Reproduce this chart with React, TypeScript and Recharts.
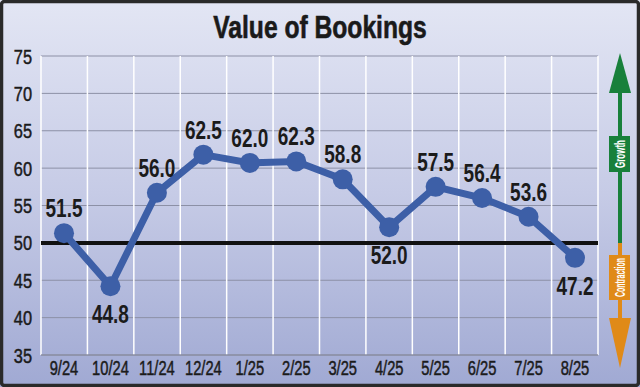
import React from 'react';
import { LineChart, Line, XAxis, YAxis, CartesianGrid, ReferenceLine, LabelList } from 'recharts';

const months = ['9/24', '10/24', '11/24', '12/24', '1/25', '2/25', '3/25', '4/25', '5/25', '6/25', '7/25', '8/25'];
const bookings = [51.3, 44.2, 56.7, 61.8, 60.7, 60.9, 58.5, 52.1, 57.5, 56.0, 53.5, 48.0];
const valueLabels = ['51.5', '44.8', '56.0', '62.5', '62.0', '62.3', '58.8', '52.0', '57.5', '56.4', '53.6', '47.2'];
const labelBelow = [false, true, false, false, false, false, false, true, false, false, false, true];
const yTicks = [35, 40, 45, 50, 55, 60, 65, 70, 75];

const data = months.map((m, i) => ({
  month: m,
  value: bookings[i],
  top: labelBelow[i] ? '' : valueLabels[i],
  bottom: labelBelow[i] ? valueLabels[i] : '',
}));

const FONT = "'Liberation Sans', Arial, sans-serif";
const LINE = '#3d5fa7';
const GREEN = '#18803b';
const ORANGE = '#e08a18';
const INK = '#1b1b1b';

function CondText(props: {
  x: number;
  y: number;
  sx: number;
  size: number;
  weight?: string;
  anchor?: 'start' | 'middle' | 'end';
  fill?: string;
  children: React.ReactNode;
  strokeW?: number;
}) {
  const { x, y, sx, size, weight = 'normal', anchor = 'middle', fill = INK, children, strokeW = 0 } = props;
  return (
    <text
      transform={`translate(${x},${y}) scale(${sx},1)`}
      textAnchor={anchor}
      fontFamily={FONT}
      fontWeight={weight}
      fontSize={size}
      fill={fill}
      stroke={strokeW ? fill : 'none'}
      strokeWidth={strokeW}
    >
      {children}
    </text>
  );
}

const makeLabel = (below: boolean) => (p: any) => {
  const v = p.value;
  if (v === undefined || v === null || v === '') return null;
  const x = p.x ?? p.viewBox?.x;
  const y = p.y ?? p.viewBox?.y;
  return (
    <CondText x={x} y={below ? y + 37 : y - 16} sx={0.76} size={25} weight="bold">
      {v}
    </CondText>
  );
};

const XTick = (p: any) => (
  <CondText x={p.x} y={p.y + 20} sx={0.7} size={21} strokeW={0.5}>
    {p.payload.value}
  </CondText>
);

const YTick = (p: any) => (
  <CondText x={p.x} y={p.y + 7.5} sx={0.78} size={21} anchor="end" strokeW={0.5}>
    {p.payload.value}
  </CondText>
);

export default function App() {
  return (
    <div
      style={{
        position: 'absolute',
        left: 0,
        top: 0,
        width: 640,
        height: 387,
        background: 'linear-gradient(to bottom, #e3e6f4 0%, #c6cbe6 50%, #a0a9d3 100%)',
        overflow: 'hidden',
      }}
    >
      <LineChart width={640} height={387} data={data} margin={{ top: 56, right: 42, bottom: 0, left: 0 }}>
        <CartesianGrid vertical={false} stroke="#8c90a6" strokeWidth={1} />
        <CartesianGrid
          horizontal={false}
          stroke="#ffffff"
          strokeWidth={1.5}
          verticalCoordinatesGenerator={(props: any) => {
            const off = props.offset;
            const n = months.length;
            return Array.from({ length: n + 1 }, (_, i) => off.left + (i * off.width) / n);
          }}
        />
        <XAxis
          dataKey="month"
          height={32}
          tickLine={false}
          tickSize={0}
          tickMargin={0}
          padding={{ left: 23, right: 23 }}
          axisLine={{ stroke: '#8c90a6', strokeWidth: 1.5 }}
          tick={XTick}
          interval={0}
        />
        <YAxis
          width={41}
          domain={[35, 75]}
          ticks={yTicks}
          type="number"
          axisLine={false}
          tickLine={false}
          tickSize={0}
          tickMargin={9}
          tick={YTick}
          allowDataOverflow
        />
        <ReferenceLine y={50} stroke="#111111" strokeWidth={4} />
        <Line
          dataKey="value"
          stroke={LINE}
          strokeWidth={7}
          dot={{ r: 10, fill: LINE, stroke: 'none' }}
          activeDot={false}
          isAnimationActive={false}
        >
          <LabelList dataKey="top" content={makeLabel(false)} />
          <LabelList dataKey="bottom" content={makeLabel(true)} />
        </Line>
      </LineChart>
      <svg
        width={640}
        height={387}
        style={{ position: 'absolute', left: 0, top: 0, pointerEvents: 'none' }}
      >
        <CondText x={320} y={38} sx={0.77} size={32} weight="bold" fill="#1a1a1a" strokeW={0.6}>
          Value of Bookings
        </CondText>
        {/* Growth arrow */}
        <rect x={618} y={88} width={4} height={156} fill={GREEN} />
        <polygon points="620,53 631,93 609,93" fill={GREEN} />
        <rect x={609} y={136} width={21} height={36} fill={GREEN} />
        <text
          x={0}
          y={0}
          transform="translate(625,154) rotate(-90)"
          textAnchor="middle"
          fontFamily={FONT}
          fontWeight="bold"
          fontSize={15}
          fill="#ffffff"
          textLength={28}
          lengthAdjust="spacingAndGlyphs"
        >
          Growth
        </text>
        {/* Contraction arrow */}
        <rect x={618} y={243} width={4} height={78} fill={ORANGE} />
        <polygon points="609,318 631,318 620,368" fill={ORANGE} />
        <rect x={609} y={255} width={21} height={45} fill={ORANGE} />
        <text
          x={0}
          y={0}
          transform="translate(624.5,277.5) rotate(-90)"
          textAnchor="middle"
          fontFamily={FONT}
          fontWeight="bold"
          fontSize={14}
          fill="#ffffff"
          textLength={39}
          lengthAdjust="spacingAndGlyphs"
        >
          Contraction
        </text>
        <rect x={1.5} y={1.5} width={637} height={384} rx={3} fill="none" stroke="#2a2a2a" strokeWidth={3.5} />
      </svg>
    </div>
  );
}
